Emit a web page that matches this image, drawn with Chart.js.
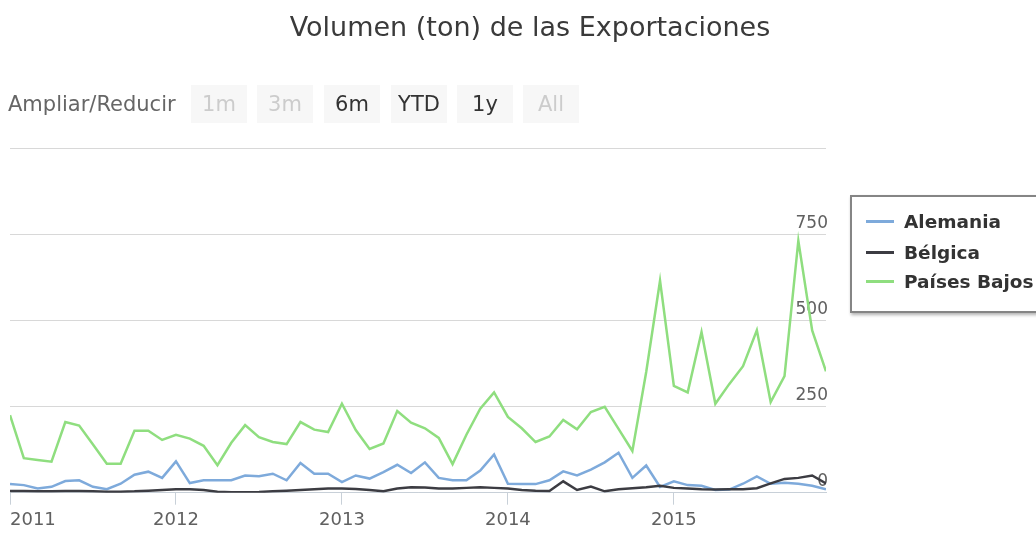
<!DOCTYPE html>
<html>
<head>
<meta charset="utf-8">
<script src="https://cdn.jsdelivr.net/npm/chart.js@4.4.1/dist/chart.umd.min.js"></script>
<style>
  html, body { margin: 0; padding: 0; background: #fff; }
  #wrap { position: relative; width: 1036px; height: 536px; overflow: hidden; font-family: "DejaVu Sans", sans-serif; }
  #chart { position: absolute; left: 0; top: 0; }
  .title { position: absolute; left: 0; top: 13px; width: 1060px; text-align: center; font-size: 27px; line-height: 27px; color: #3a3a3a; white-space: nowrap; }
  .zoom-label { position: absolute; left: 8px; top: 85px; height: 38px; line-height: 38px; font-size: 21px; color: #666; white-space: nowrap; }
  .btn { position: absolute; top: 85px; width: 56px; height: 38px; line-height: 38px; text-align: center; font-size: 21px; background: #f7f7f7; color: #333; }
  .btn.off { color: #cccccc; }
  .legend { position: absolute; left: 850px; top: 195px; width: 200px; height: 114px; border: 2px solid #858585; background: #fff; box-shadow: 1px 2px 3px rgba(0,0,0,0.3); }
  .item { position: absolute; left: 0; height: 30px; width: 200px; }
  .sym { position: absolute; left: 14px; top: 13px; width: 28px; height: 3px; }
  .txt { position: absolute; left: 52px; top: 0; line-height: 30px; font-size: 18.5px; font-weight: bold; color: #333; white-space: nowrap; }
</style>
</head>
<body>
<div id="wrap">
  <canvas id="chart" width="1036" height="536"></canvas>
  <div class="title">Volumen (ton) de las Exportaciones</div>
  <div class="zoom-label">Ampliar/Reducir</div>
  <div id="buttons"></div>
  <div class="legend" id="legend"></div>
</div>
<script>
// Monthly export volumes (tonnes), January 2011 to December 2015
const years = ['2011', '2012', '2013', '2014', '2015'];

const alemania = [
  25, 22, 12, 17, 34, 36, 17, 10, 26, 52, 61, 43,
  91, 28, 36, 36, 36, 50, 48, 55, 36, 86, 55, 55,
  31, 50, 41, 60, 81, 57, 88, 43, 36, 36, 64, 111,
  26, 25, 25, 36, 62, 50, 67, 88, 116, 43, 79, 17,
  33, 22, 20, 8, 9, 26, 47, 26, 29, 26, 20, 10
];

const belgica = [
  5, 5, 4, 4, 5, 5, 4, 3, 3, 4, 6, 8,
  10, 10, 8, 3, 1, 1, 2, 4, 6, 8, 10, 12,
  12, 11, 8, 4, 12, 16, 15, 12, 12, 14, 16, 14,
  12, 8, 6, 5, 33, 8, 18, 4, 10, 13, 16, 20,
  14, 12, 10, 9, 10, 10, 13, 27, 40, 43, 50, 27
];

const paisesBajos = [
  225, 100, 95, 90, 205, 195, 140, 84, 84, 180, 180, 153,
  168, 157, 136, 80, 145, 196, 161, 147, 141, 205, 183, 176,
  258, 182, 127, 143, 237, 203, 187, 159, 83, 168, 244, 291,
  220, 187, 147, 163, 211, 184, 234, 249, 185, 121, 350, 615,
  310, 291, 466, 258, 315, 367, 471, 263, 338, 731, 471, 352
];

const yTicks = [0, 250, 500, 750, 1000];
const rangeButtons = ['1m', '3m', '6m', 'YTD', '1y', 'All'];
const disabledButtons = ['1m', '3m', 'All'];

const toPoints = arr => arr.map((v, i) => ({ x: i, y: v }));
const lastIndex = alemania.length - 1;
const yearTicks = years.map((y, i) => i * 12);

Chart.defaults.font.family = '"DejaVu Sans", sans-serif';

const chart = new Chart(document.getElementById('chart'), {
  type: 'line',
  data: {
    datasets: [
      { label: 'Alemania', data: toPoints(alemania), borderColor: '#7eaadb', order: 1 },
      { label: 'Bélgica', data: toPoints(belgica), borderColor: '#3c3c42', order: 0 },
      { label: 'Países Bajos', data: toPoints(paisesBajos), borderColor: '#8fde7f', order: 2 }
    ]
  },
  options: {
    responsive: false,
    animation: false,
    layout: { padding: { left: 10, right: 206, top: 148, bottom: 0 } },
    plugins: { legend: { display: false }, tooltip: { enabled: false }, title: { display: false } },
    elements: {
      point: { radius: 0, hoverRadius: 0 },
      line: { borderWidth: 2.5, tension: 0 }
    },
    scales: {
      x: {
        type: 'linear',
        min: 0,
        max: lastIndex,
        afterBuildTicks: s => { s.ticks = yearTicks.concat([lastIndex]).map(v => ({ value: v })); },
        grid: {
          drawOnChartArea: false,
          drawTicks: true,
          tickLength: 12,
          tickColor: ctx => (ctx.tick && ctx.tick.value === lastIndex) ? 'rgba(0,0,0,0)' : '#c8d0d8'
        },
        border: { display: true, color: '#c8d0d8', width: 1 },
        ticks: {
          align: 'inner',
          autoSkip: false,
          maxRotation: 0,
          padding: 8,
          color: '#606060',
          font: { size: 18, lineHeight: 0.85 },
          callback: v => (v % 12 === 0 && v / 12 < years.length) ? years[v / 12] : ''
        }
      },
      y: {
        position: 'right',
        min: 0,
        max: 1000,
        afterBuildTicks: s => { s.ticks = yTicks.map(v => ({ value: v })); },
        grid: { color: '#d8d8d8', lineWidth: 1, drawTicks: false },
        border: { display: false },
        ticks: {
          mirror: true,
          padding: 2,
          labelOffset: -11,
          color: '#606060',
          font: { size: 17 },
          callback: v => v === 1000 ? '' : String(v)
        }
      }
    }
  }
});

// Range selector buttons
const btnWrap = document.getElementById('buttons');
const btnLeft = [191, 257, 324, 391, 457, 523];
rangeButtons.forEach((t, i) => {
  const b = document.createElement('div');
  b.className = 'btn' + (disabledButtons.includes(t) ? ' off' : '');
  b.style.left = btnLeft[i] + 'px';
  b.textContent = t;
  btnWrap.appendChild(b);
});

// Legend built from the chart's datasets
const legend = document.getElementById('legend');
const rowTop = [10, 41, 70];
chart.data.datasets.forEach((ds, i) => {
  const item = document.createElement('div');
  item.className = 'item';
  item.style.top = rowTop[i] + 'px';
  const sym = document.createElement('div');
  sym.className = 'sym';
  sym.style.background = ds.borderColor;
  const txt = document.createElement('div');
  txt.className = 'txt';
  txt.textContent = ds.label;
  item.appendChild(sym);
  item.appendChild(txt);
  legend.appendChild(item);
});
</script>
</body>
</html>
